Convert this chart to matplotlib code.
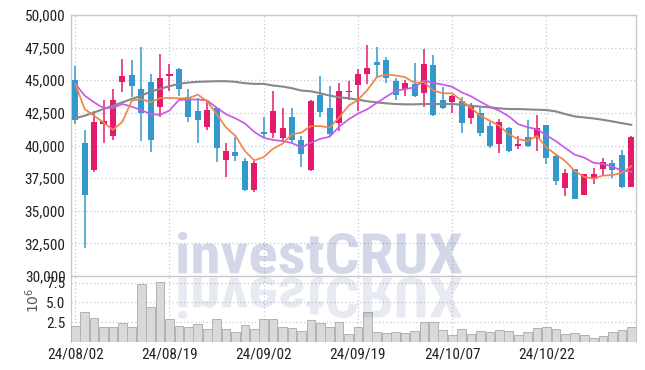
import numpy as np
import matplotlib
matplotlib.use("Agg")
import matplotlib.pyplot as plt
import matplotlib.transforms as mtransforms
from matplotlib import font_manager
from matplotlib.font_manager import FontProperties
from matplotlib.textpath import TextPath
from matplotlib.patches import PathPatch

# pick a narrow sans if there is one
installed = {f.name for f in font_manager.fontManager.ttflist}
narrow = "DejaVu Sans"
for name in ["Liberation Sans Narrow", "Roboto Condensed", "Liberation Sans"]:
    if name in installed:
        narrow = name
        break

# daily OHLC (KRW)
opens = [45031, 40170, 38112, 41610, 40761, 44851, 45365, 44362, 44902, 42922,
         45314, 45828, 43719, 42665, 41430, 42870, 38858, 39501, 38807, 36569,
         41044, 40993, 40607, 42202, 40453, 38086, 43899, 42870, 41713, 44131,
         44645, 45494, 46368, 46523, 44979, 44362, 44722, 44002, 46137, 43488,
         43308, 43385, 42073, 42485, 41507, 40093, 41327, 39990, 40658, 40556,
         41584, 39192, 36749, 38215, 36235, 37469, 38164, 38627, 39270, 36826]
highs = [46060, 41173, 42665, 43488, 44336, 46651, 46574, 47551, 45494, 47037,
         46214, 45931, 44336, 43616, 43436, 42973, 40170, 40633, 39012, 38807,
         42150, 44182, 42870, 42870, 40736, 43488, 45288, 44568, 44799, 44928,
         45880, 47731, 47551, 46780, 45185, 45031, 46317, 47397, 46908, 44516,
         43899, 43745, 43230, 42870, 41764, 42022, 41430, 40736, 41970, 42356,
         41584, 39270, 38215, 38215, 37830, 38292, 39064, 38858, 39630, 40736]
lows = [41636, 32171, 37984, 40170, 40427, 44131, 43745, 40350, 39501, 42202,
        44208, 43796, 41816, 40170, 41173, 38704, 37623, 38807, 36492, 36440,
        40556, 40556, 40350, 40221, 38344, 38035, 42150, 40736, 41121, 43513,
        42613, 44722, 45237, 44774, 43488, 43796, 43745, 42922, 42253, 42793,
        42459, 40993, 41636, 40736, 39836, 39450, 39527, 39707, 39887, 39578,
        38549, 36955, 36106, 35900, 36183, 37057, 37649, 37520, 36749, 36826]
closes = [41970, 36209, 41816, 41893, 43513, 45288, 44542, 42459, 40401, 45185,
          45468, 44336, 42150, 41919, 42742, 39784, 39578, 39218, 36569, 38627,
          40916, 42665, 41353, 40401, 39372, 43436, 42536, 40864, 44208, 44208,
          45494, 45957, 46163, 45185, 43848, 44774, 43796, 46214, 42356, 42870,
          43822, 41713, 43102, 40993, 39964, 41816, 39578, 40144, 39990, 41379,
          39012, 37315, 37855, 35900, 37778, 37778, 38704, 38138, 36800, 40658]

# moving averages as drawn
ma_short = [44722, 42793, 42279, 41764, 41199, 41816, 43436, 43565, 43308, 43642,
            43642, 43616, 43616, 43899, 43385, 42408, 41379, 40736, 39578, 38858,
            39116, 39758, 40144, 40864, 40993, 41482, 41482, 41379, 42150, 43050,
            43488, 44259, 45237, 45442, 45365, 45237, 44799, 44851, 44208, 44002,
            44002, 43436, 42870, 42279, 41893, 41507, 40864, 40478, 40350, 40736,
            39836, 39321, 38807, 38035, 37597, 37469, 37700, 37726, 37906, 38421]
ma_mid = [44722, 43822, 43308, 42870, 42870, 43179, 42973, 42716, 42408, 42350,
          42680, 43490, 43525, 43525, 43450, 42900, 42400, 42080, 41695, 41040,
          40590, 40420, 40340, 40190, 39850, 40215, 40510, 40675, 41440, 42000,
          42450, 42780, 43265, 43740, 44190, 44325, 44450, 44985, 44800, 44666,
          44500, 44075, 43770, 43350, 42960, 42665, 42243, 41636, 41400, 41250,
          40770, 40330, 39805, 39295, 39077, 38673, 38586, 38385, 38066, 37994]
ma_long = [42099, 42279, 42536, 42793, 43050, 43308, 43565, 43822, 44131, 44336,
           44542, 44722, 44825, 44877, 44902, 44928, 44928, 44877, 44774, 44722,
           44722, 44594, 44516, 44388, 44208, 44156, 44002, 43822, 43693, 43616,
           43513, 43385, 43308, 43230, 43179, 43153, 43153, 43179, 43179, 43179,
           43179, 43128, 43050, 42973, 42922, 42845, 42793, 42793, 42768, 42742,
           42716, 42613, 42408, 42227, 42150, 42073, 41970, 41842, 41713, 41584]

# volume, millions
volume = [1.96, 3.84, 3.09, 1.84, 1.84, 2.38, 1.84, 7.33, 4.46, 7.58,
          2.96, 1.96, 1.84, 2.21, 1.59, 2.96, 1.63, 1.21, 2.13, 1.63,
          2.88, 2.88, 1.84, 1.71, 1.38, 2.75, 2.38, 1.84, 2.50, 0.96,
          1.84, 3.84, 1.25, 1.13, 1.25, 1.13, 1.38, 2.54, 2.54, 1.50,
          0.88, 1.63, 0.96, 1.38, 1.29, 1.50, 1.38, 0.83, 1.29, 1.71,
          1.88, 1.63, 0.96, 1.13, 0.83, 0.46, 0.71, 1.25, 1.50, 1.88]

tick_pos = [0, 10, 20, 30, 40, 50]
tick_labels = ["24/08/02", "24/08/19", "24/09/02", "24/09/19", "24/10/07", "24/10/22"]

UP = "#e41a6c"
DOWN = "#3399cc"
GRID = "#c6c9da"
SPINE = "#c8c8c8"

o = np.array(opens)
c = np.array(closes)
x = np.arange(len(o))
cols = np.where(c >= o, UP, DOWN)

fig = plt.figure(figsize=(6.45, 3.7), dpi=100)
W, H = 645.0, 370.0
ax = fig.add_axes([71 / W, 1 - 276 / H, 565 / W, 261 / H])
axv = fig.add_axes([71 / W, 1 - 342 / H, 565 / W, 66 / H], sharex=ax)

# candles
ax.vlines(x, lows, highs, colors=cols, linewidth=1.1, zorder=3)
ax.bar(x, np.maximum(np.abs(c - o), 40), bottom=np.minimum(o, c), width=0.64,
       color=cols, linewidth=0, zorder=4)

ax.plot(x, ma_long, color="#888888", lw=1.5, zorder=5)
ax.plot(x, ma_mid, color="#c95ae8", lw=1.25, zorder=5)
ax.plot(x, ma_short, color="#f08648", lw=1.25, zorder=5)

ax.set_xlim(-0.45, 59.5)
ax.set_ylim(30000, 50000)
ax.set_yticks(np.arange(30000, 50001, 2500))
ax.set_yticklabels([f"{v:,}" for v in range(30000, 50001, 2500)])
ax.set_xticks(tick_pos)
ax.tick_params(axis="x", labelbottom=False, length=0)
ax.grid(True, color=GRID, linestyle=(0, (1, 2)), linewidth=0.9)
ax.set_axisbelow(True)
for s in ax.spines.values():
    s.set_color(SPINE)
    s.set_linewidth(1)

# volume
axv.bar(x, volume, width=0.92, color="#d9d9d9", edgecolor="#b2b2b2", linewidth=0.7, zorder=3)
axv.set_ylim(0, 8.33)
axv.set_yticks([2.5, 5.0, 7.5])
axv.set_yticklabels(["2.5", "5.0", "7.5"])
axv.set_xticks(tick_pos)
axv.set_xticklabels(tick_labels)
axv.grid(True, color=GRID, linestyle=(0, (1, 2)), linewidth=0.9)
axv.set_axisbelow(True)
axv.patch.set_alpha(0)
axv.spines["top"].set_visible(False)
axv.spines["bottom"].set_visible(False)
for s in ["left", "right"]:
    axv.spines[s].set_color(SPINE)

for a in (ax, axv):
    a.tick_params(length=0, pad=4, labelcolor="#222222", labelsize=11)
    for lab in a.get_xticklabels() + a.get_yticklabels():
        lab.set_fontfamily(narrow)

fig.text(33 / W, 1 - 300 / H, r"$10^6$", rotation=90, ha="center", va="center",
         fontsize=10, color="#555555")

# watermark and its reflection
tp = TextPath((0, 0), "investCRUX", size=100, prop=FontProperties(family=narrow, weight="bold"))
bb = tp.get_extents()
sx = (462 - 178) / bb.width
sy = (274 - 232) / bb.height
to_fig = mtransforms.Affine2D().scale(1 / W, 1 / H)
main_tr = mtransforms.Affine2D().translate(-bb.x0, -bb.y0).scale(sx, sy).translate(178, H - 274) + to_fig
refl_tr = mtransforms.Affine2D().translate(-bb.x0, -bb.y0).scale(sx, -sy).translate(178, H - 277) + to_fig
fig.add_artist(PathPatch(main_tr.transform_path(tp), transform=fig.transFigure,
                         facecolor=(0.14, 0.22, 0.53), alpha=0.2, lw=0, zorder=10))
fig.add_artist(PathPatch(refl_tr.transform_path(tp), transform=fig.transFigure,
                         facecolor=(0.14, 0.22, 0.53), alpha=0.1, lw=0, zorder=10))

fig.savefig("out.png", dpi=100)
